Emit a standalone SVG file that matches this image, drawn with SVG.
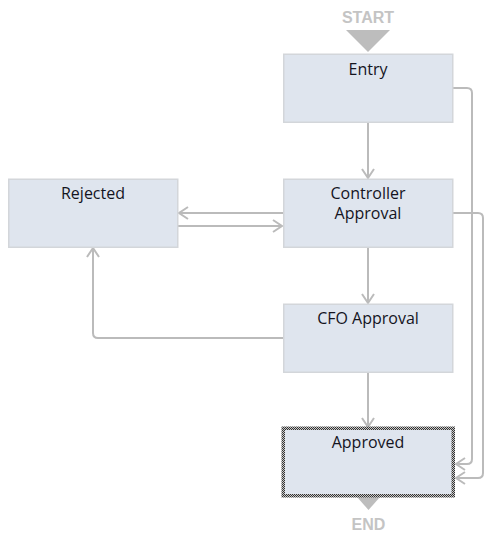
<svg xmlns="http://www.w3.org/2000/svg" width="500" height="540" viewBox="0 0 500 540">
<style>
.box{fill:#dfe5ee;stroke:#d3d6da;stroke-width:1.5}
.lbl{font-family:"Open Sans","Liberation Sans",sans-serif;font-size:16px;fill:#14141e;text-anchor:middle}
.term{font-family:"Liberation Sans",Arial,sans-serif;font-weight:bold;font-size:16px;fill:#c4c4c4;text-anchor:middle}
.con{fill:none;stroke:#bbbbbb;stroke-width:2;marker-end:url(#arr)}
</style>
<defs>
<marker id="arr" markerUnits="userSpaceOnUse" markerWidth="20" markerHeight="20" viewBox="-10 -10 20 20" refX="0" refY="0" orient="auto">
<path d="M-9,-6 L0,0 L-9,6" fill="none" stroke="#bbbbbb" stroke-width="2"/>
</marker>
<pattern id="chk" width="2" height="2" patternUnits="userSpaceOnUse">
<rect width="2" height="2" fill="#c8c8c8"/>
<rect width="1" height="1" fill="#333"/>
<rect x="1" y="1" width="1" height="1" fill="#333"/>
</pattern>
</defs>
<g id="start">
<text class="term" x="368" y="23">START</text>
<polygon points="346,30 390,30 368,52" fill="#bdbdbd"/>
</g>
<g id="end">
<polygon points="357,497 380,497 368.5,510" fill="#bdbdbd"/>
<text class="term" x="368.5" y="530">END</text>
</g>
<g id="connectors">
<path class="con" d="M368,122 V178"/>
<path class="con" d="M368,247 V303"/>
<path class="con" d="M368,372 V427"/>
<path class="con" d="M283,213 H179"/>
<path class="con" d="M178,226 H282"/>
<path class="con" d="M283,338 H98 Q93,338 93,333 V248"/>
<path class="con" d="M453,88 H467 Q472,88 472,93 V459 Q472,464 467,464 H456"/>
<path class="con" d="M453,213 H478 Q483,213 483,218 V473 Q483,478 478,478 H456"/>
</g>
<g id="entry">
<rect class="box" x="283.75" y="54.25" width="169" height="68"/>
<text class="lbl" x="368" y="75">Entry</text>
</g>
<g id="rejected">
<rect class="box" x="8.75" y="179.25" width="169" height="68"/>
<text class="lbl" x="93" y="199">Rejected</text>
</g>
<g id="controller">
<rect class="box" x="283.75" y="179.25" width="169" height="68"/>
<text class="lbl" x="368" y="199">Controller</text>
<text class="lbl" x="368" y="219">Approval</text>
</g>
<g id="cfo">
<rect class="box" x="283.75" y="304.25" width="169" height="68"/>
<text class="lbl" x="368" y="324">CFO Approval</text>
</g>
<g id="approved">
<rect x="281.5" y="426.5" width="173.5" height="71" fill="url(#chk)"/>
<rect x="285" y="430" width="166.5" height="64" fill="#dfe5ee"/>
<text class="lbl" x="368" y="448">Approved</text>
</g>
</svg>
